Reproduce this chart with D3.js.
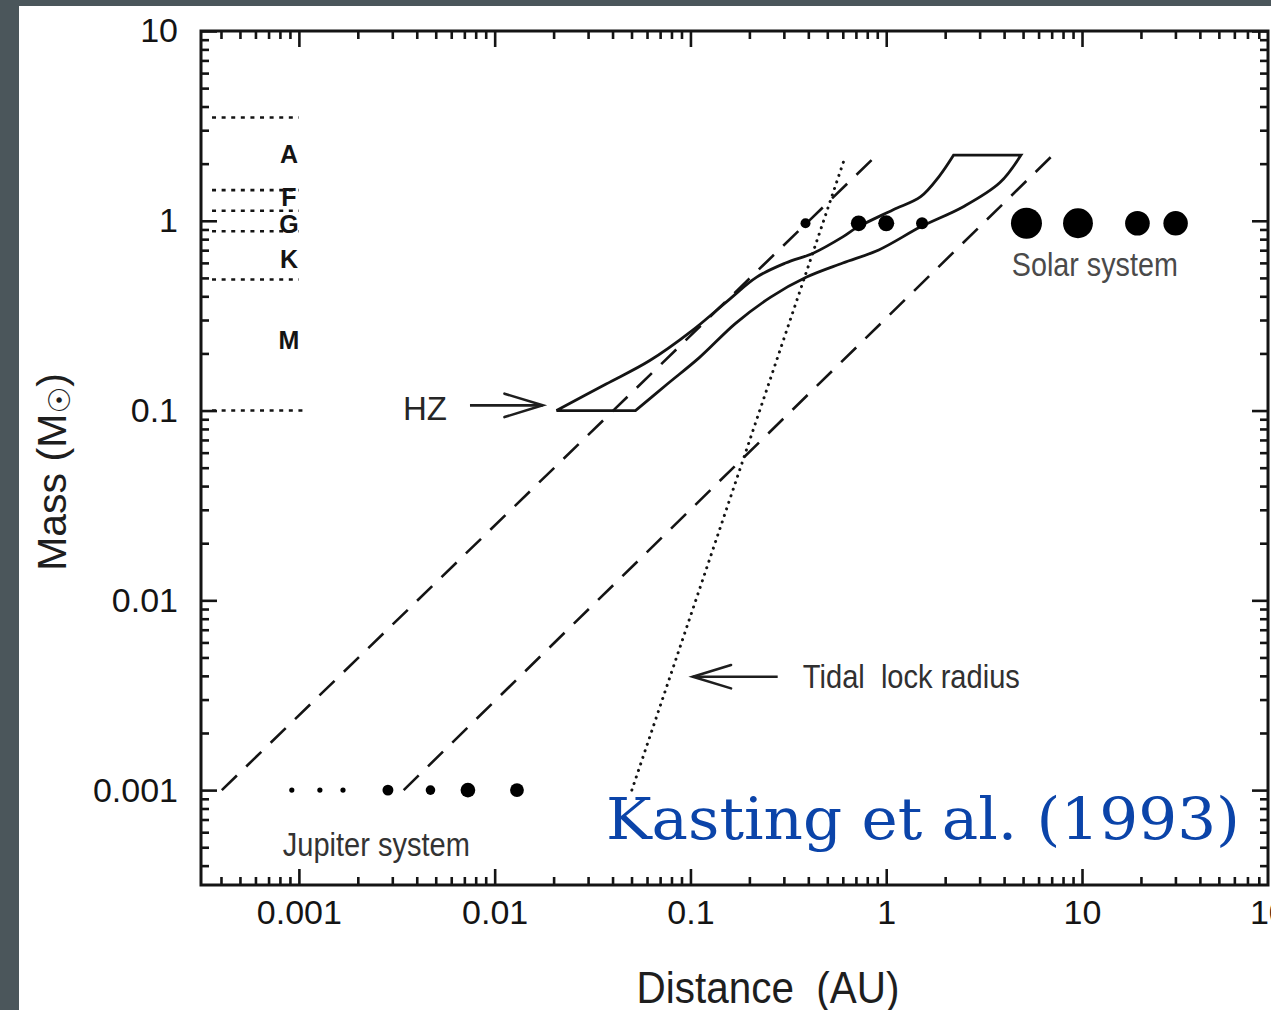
<!DOCTYPE html>
<html><head><meta charset="utf-8">
<script src="https://cdn.jsdelivr.net/npm/d3@7"></script>
<style>
html,body{margin:0;padding:0;background:#4b565b;overflow:hidden;}
svg{display:block;}
</style></head><body>
<svg id="chart" width="1271" height="1010"></svg>
<script>
// ---------- data ----------
const xTickValues = [0.001, 0.01, 0.1, 1, 10, 100];
const xTickLabels = ["0.001", "0.01", "0.1", "1", "10", "100"];
const yTickValues = [10, 1, 0.1, 0.01, 0.001];
const yTickLabels = ["10", "1", "0.1", "0.01", "0.001"];

const spectralClasses = ["A", "F", "G", "K", "M"];
const spectralLabelMass = [2.25, 1.33, 0.96, 0.63, 0.235];
const spectralBoundaryMass = [3.5, 1.45, 1.13, 0.88, 0.49, 0.1];
const spectralBoundaryDist = [0.00036, 0.00100];

const hzInnerDist = [0.0207, 0.0371, 0.0617, 0.102, 0.156, 0.218, 0.306, 0.426, 0.600, 0.707, 1.08, 1.50, 1.86, 2.21];
const hzInnerMass = [0.1, 0.138, 0.183, 0.264, 0.381, 0.505, 0.599, 0.677, 0.823, 0.92, 1.14, 1.34, 1.71, 2.22];
const hzOuterDist = [0.0524, 0.0762, 0.111, 0.170, 0.257, 0.392, 0.600, 0.916, 1.50, 2.49, 3.81, 4.88];
const hzOuterMass = [0.1, 0.138, 0.190, 0.288, 0.396, 0.505, 0.599, 0.702, 0.929, 1.19, 1.59, 2.22];

const dashedInnerDist = [0.000404, 0.895];
const dashedInnerMass = [0.001, 2.22];
const dashedOuterDist = [0.00343, 7.26];
const dashedOuterMass = [0.001, 2.27];
const tidalLockDist = [0.0502, 0.614];
const tidalLockMass = [0.001, 2.14];

const solarNames = ["Mercury", "Venus", "Earth", "Mars", "Jupiter", "Saturn", "Uranus", "Neptune"];
const solarDist = [0.387, 0.723, 1.0, 1.524, 5.203, 9.537, 19.19, 30.07];
const solarRadiusKm = [2440, 6052, 6371, 3390, 69911, 58232, 25362, 24622];
const solarMass = 0.97;

const moonNames = ["Metis", "Amalthea", "Thebe", "Io", "Europa", "Ganymede", "Callisto"];
const moonDist = [0.00092, 0.00128, 0.00168, 0.00285, 0.0047, 0.0073, 0.0130];
const moonRadiusKm = [22, 84, 49, 1822, 1561, 2634, 2410];
const moonMass = 0.001;

// annotation anchors (data coordinates)
const hzArrowDist = [0.00748, 0.0176];
const hzArrowMass = 0.1065;
const tidalArrowDist = [0.279, 0.1028];
const tidalArrowMass = 0.00396;

// ---------- layout ----------
const W = 1271, H = 1010;
const frame = {left: 201, right: 1268, top: 31, bottom: 885};
const SANS = "'Liberation Sans', Arial, Helvetica, sans-serif";
const svg = d3.select("#chart");

svg.append("rect").attr("x", 0).attr("y", 0).attr("width", W).attr("height", H).attr("fill", "#4b565b");
svg.append("rect").attr("x", 19).attr("y", 6).attr("width", W - 19).attr("height", H - 6).attr("fill", "#ffffff");

const x = d3.scaleLog().domain([Math.pow(10, -3.5), Math.pow(10, 1.95)]).range([frame.left, frame.right]);
const y = d3.scaleLog().domain([Math.pow(10, -3.5), 10]).range([frame.bottom, frame.top]);

function minors(scale) {
  const [a, b] = scale.domain();
  const out = [];
  for (let k = -5; k <= 3; k++) for (let m = 2; m <= 9; m++) {
    const v = m * Math.pow(10, k);
    if (v > a && v < b) out.push(v);
  }
  return out;
}
function majors(scale) {
  const [a, b] = scale.domain();
  const out = [];
  for (let k = -5; k <= 3; k++) { const v = Math.pow(10, k); if (v >= a && v <= b) out.push(v); }
  return out;
}
const ink = "#141414";

function tickGroup(gen, transform, vals, size) {
  const g = svg.append("g").attr("transform", transform)
    .call(gen.tickValues(vals).tickSize(size).tickFormat(""));
  g.select(".domain").remove();
  g.selectAll(".tick line").attr("stroke", ink).attr("stroke-width", 2.6);
  return g;
}
tickGroup(d3.axisTop(x), `translate(0,${frame.bottom})`, majors(x), 16);
tickGroup(d3.axisTop(x), `translate(0,${frame.bottom})`, minors(x), 8);
tickGroup(d3.axisBottom(x), `translate(0,${frame.top})`, majors(x), 16);
tickGroup(d3.axisBottom(x), `translate(0,${frame.top})`, minors(x), 8);
tickGroup(d3.axisRight(y), `translate(${frame.left},0)`, majors(y), 16);
tickGroup(d3.axisRight(y), `translate(${frame.left},0)`, minors(y), 8);
tickGroup(d3.axisLeft(y), `translate(${frame.right},0)`, majors(y), 16);
tickGroup(d3.axisLeft(y), `translate(${frame.right},0)`, minors(y), 8);

// tick labels
const xl = svg.append("g").attr("transform", `translate(0,${frame.bottom})`)
  .call(d3.axisBottom(x).tickValues(xTickValues).tickSize(0).tickPadding(15)
    .tickFormat((d, i) => xTickLabels[i]));
xl.select(".domain").remove();
xl.selectAll("text").style("font-family", SANS).style("font-size", "34px").attr("fill", ink);

const yl = svg.append("g").attr("transform", `translate(${frame.left},0)`)
  .call(d3.axisLeft(y).tickValues(yTickValues).tickSize(0).tickPadding(23)
    .tickFormat((d, i) => yTickLabels[i]));
yl.select(".domain").remove();
yl.selectAll("text").style("font-family", SANS).style("font-size", "34px").attr("fill", ink);

// frame
svg.append("rect").attr("x", frame.left).attr("y", frame.top)
  .attr("width", frame.right - frame.left).attr("height", frame.bottom - frame.top)
  .attr("fill", "none").attr("stroke", ink).attr("stroke-width", 3);

// spectral class boundaries
svg.append("g").selectAll("line").data(spectralBoundaryMass).join("line")
  .attr("x1", x(spectralBoundaryDist[0]))
  .attr("x2", (d, i) => x(spectralBoundaryDist[1]) + (i === spectralBoundaryMass.length - 1 ? 4 : 0))
  .attr("y1", d => y(d)).attr("y2", d => y(d))
  .attr("stroke", ink).attr("stroke-width", 2.6).attr("stroke-dasharray", "4,5.6");

svg.append("g").selectAll("text").data(spectralClasses).join("text")
  .attr("x", x(0.00089)).attr("y", (d, i) => y(spectralLabelMass[i]))
  .attr("text-anchor", "middle").attr("dominant-baseline", "central")
  .style("font-family", SANS).style("font-size", "25px").style("font-weight", "bold")
  .attr("fill", ink)
  .text(d => d);

// lines
const line = d3.line().x(d => x(d[0])).y(d => y(d[1]));
svg.append("path").attr("d", line(d3.zip(dashedInnerDist, dashedInnerMass)))
  .attr("fill", "none").attr("stroke", ink).attr("stroke-width", 2.6).attr("stroke-dasharray", "21,13");
svg.append("path").attr("d", line(d3.zip(dashedOuterDist, dashedOuterMass)))
  .attr("fill", "none").attr("stroke", ink).attr("stroke-width", 2.6).attr("stroke-dasharray", "21,13");
svg.append("path").attr("d", line(d3.zip(tidalLockDist, tidalLockMass)))
  .attr("fill", "none").attr("stroke", ink).attr("stroke-width", 3)
  .attr("stroke-linecap", "round").attr("stroke-dasharray", "0.1,6.8");

// habitable zone
const curve = d3.line().x(d => x(d[0])).y(d => y(d[1])).curve(d3.curveCatmullRom.alpha(0.5));
const innerPts = d3.zip(hzInnerDist, hzInnerMass);
const outerPts = d3.zip(hzOuterDist, hzOuterMass).reverse();
svg.append("path")
  .attr("d", curve(innerPts) + curve(outerPts).replace(/^M/, "L") + "Z")
  .attr("fill", "none").attr("stroke", ink).attr("stroke-width", 2.8).attr("stroke-linejoin", "miter");

// planets
const solarR = d3.scaleLog().domain([6371, 69911]).range([8, 15.5]);
svg.append("g").selectAll("circle").data(solarDist).join("circle")
  .attr("cx", d => x(d)).attr("cy", y(solarMass))
  .attr("r", (d, i) => solarR(solarRadiusKm[i])).attr("fill", "#000");

const moonR = d3.scaleLog().domain([100, 1600, 2700]).range([2.6, 4.8, 7.5]).clamp(true);
svg.append("g").selectAll("circle").data(moonDist).join("circle")
  .attr("cx", d => x(d)).attr("cy", y(moonMass))
  .attr("r", (d, i) => moonR(moonRadiusKm[i])).attr("fill", "#000");

// arrows
function arrow(x1, y1, x2, y2) {
  const g = svg.append("g").attr("stroke", "#1e1e1e").attr("stroke-width", 2.6).attr("fill", "none");
  g.append("line").attr("x1", x1).attr("y1", y1).attr("x2", x2).attr("y2", y2);
  const ang = Math.atan2(y2 - y1, x2 - x1);
  const L = 40, a = 17 * Math.PI / 180;
  const p1 = [x2 - L * Math.cos(ang - a), y2 - L * Math.sin(ang - a)];
  const p2 = [x2 - L * Math.cos(ang + a), y2 - L * Math.sin(ang + a)];
  g.append("path").attr("d", `M${p1[0]},${p1[1]}L${x2},${y2}L${p2[0]},${p2[1]}`)
    .attr("stroke-linejoin", "miter").attr("stroke-linecap", "round");
}
arrow(x(hzArrowDist[0]), y(hzArrowMass), x(hzArrowDist[1]), y(hzArrowMass));
arrow(x(tidalArrowDist[0]), y(tidalArrowMass), x(tidalArrowDist[1]), y(tidalArrowMass));

// labels
function label(txt, xv, yv, size, len, color) {
  return svg.append("text").attr("x", x(xv)).attr("y", y(yv))
    .attr("dominant-baseline", "central")
    .style("font-family", SANS).style("font-size", size + "px").style("white-space", "pre")
    .attr("fill", color).attr("textLength", len).attr("lengthAdjust", "spacingAndGlyphs")
    .text(txt);
}
label("HZ", 0.0034, 0.1035, 34, 44, "#262626");
label("Tidal  lock radius", 0.375, 0.0040, 34, 217, "#303030");
label("Solar system", 4.38, 0.59, 34, 166, "#4a4a4a");
label("Jupiter system", 0.000828, 0.00052, 34, 187, "#333333");

// axis titles
svg.append("text").attr("x", 768).attr("y", 1003)
  .attr("text-anchor", "middle")
  .style("font-family", SANS).style("font-size", "44px").style("white-space", "pre")
  .attr("fill", "#1e1e1e")
  .attr("textLength", 263).attr("lengthAdjust", "spacingAndGlyphs")
  .text("Distance  (AU)");

const mt = svg.append("text").attr("transform", "translate(66,472) rotate(-90)")
  .attr("text-anchor", "middle")
  .style("font-family", SANS).style("font-size", "41px").attr("fill", "#1e1e1e");
mt.append("tspan").text("Mass (M");
mt.append("tspan").attr("dy", 4)
  .style("font-family", "'DejaVu Sans', sans-serif").style("font-size", "30px").text("\u2609");
mt.append("tspan").attr("dy", -4).text(")");

// citation overlay
svg.append("text").attr("x", x(0.037)).attr("y", y(0.000553))
  .style("font-family", "'DejaVu Serif', 'Liberation Serif', serif").style("font-size", "58px")
  .attr("fill", "#0b44a9").attr("textLength", 634).attr("lengthAdjust", "spacingAndGlyphs")
  .text("Kasting et al. (1993)");
</script>
</body></html>
